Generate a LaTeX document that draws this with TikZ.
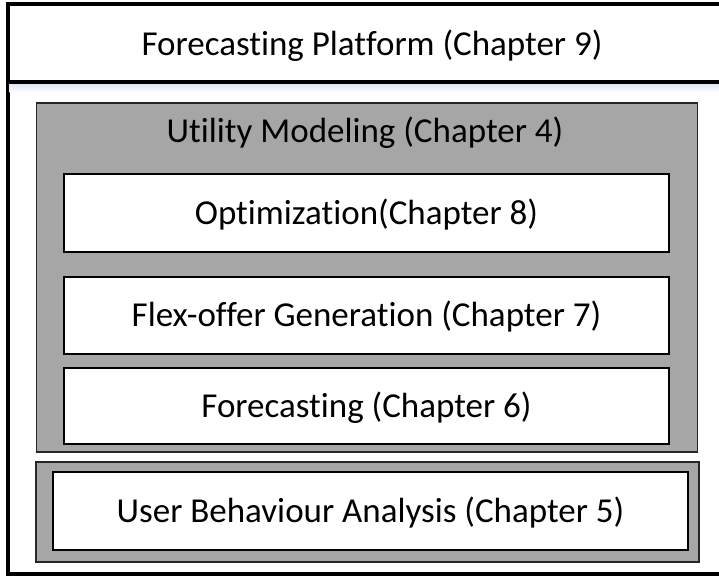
\documentclass[tikz,border=0pt]{standalone}
\usepackage{fontspec}
\setmainfont[Ligatures=NoCommon]{Carlito}
\definecolor{boxgray}{HTML}{A6A6A6}
\definecolor{haze}{HTML}{DCE6F2}
\begin{document}
\begin{tikzpicture}[x=1pt,y=-1pt,
  lbl/.style={font=\fontsize{35}{40}\selectfont, inner sep=0pt},
  graybox/.style={draw=black!85, line width=1.6pt, fill=boxgray, inner sep=0pt, outer sep=0pt},
  whitebox/.style={draw=black, line width=2.2pt, fill=white, inner sep=0pt, outer sep=0pt,
    font=\fontsize{35}{40}\selectfont, text height=22.5pt, text depth=0pt},
  frame/.style={draw=black, line width=4pt}]
\useasboundingbox (0,0) rectangle (719,576);

% outer frame with the header band
\coordinate (ftl) at (7.5,4);
\coordinate (fbr) at (727,573.5);
\draw[frame] (ftl) rectangle (fbr);
\fill[top color=haze, bottom color=white] (9.5,83.5) rectangle (719,92);
\coordinate (hl) at (7.5,81.5);
\coordinate (hr) at (727,81.5);
\draw[frame] (hl) -- (hr);
\node[lbl, anchor=base] (platform) at (372,55) {Forecasting Platform (Chapter 9)};

% utility modeling block
\node[graybox, minimum width=661pt, minimum height=349pt] (utility) at (367,277.5) {};
\node[lbl, anchor=base] (utilitylabel) at (365,142) {Utility Modeling (Chapter 4)};
\node[whitebox, minimum width=605pt, minimum height=78pt] (opt) at (366.5,213) {Optimization(Chapter 8)};
\node[whitebox, minimum width=605pt, minimum height=77pt] (flex) at (366.5,315.5) {Flex-offer Generation (Chapter 7)};
\node[whitebox, minimum width=605pt, minimum height=76pt] (fcst) at (366.5,406) {Forecasting (Chapter 6)};

% user behaviour block
\node[graybox, minimum width=663pt, minimum height=100pt] (userbg) at (367.5,512) {};
\node[whitebox, minimum width=635pt, minimum height=78pt] (user) at (370.5,511) {User Behaviour Analysis (Chapter 5)};
\end{tikzpicture}
\end{document}
